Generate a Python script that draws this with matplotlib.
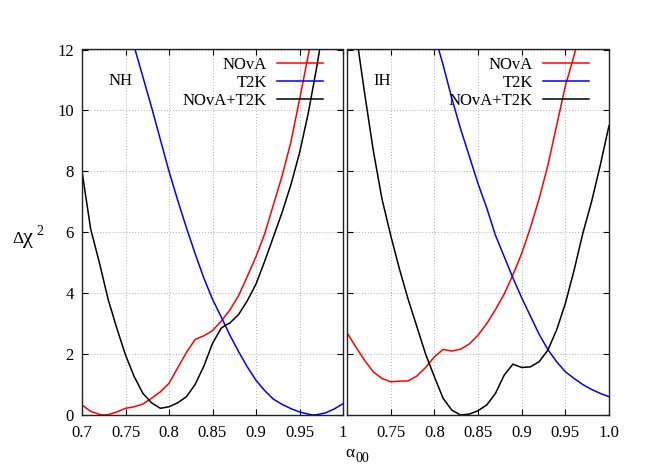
import numpy as np
import matplotlib
matplotlib.use("Agg")
import matplotlib.pyplot as plt

plt.rcParams['font.family'] = ['Liberation Serif', 'DejaVu Serif']
plt.rcParams['font.size'] = 12

# NH panel, alpha_00 values and delta chi^2
nh_nova_x = [0.70, 0.71, 0.72, 0.725, 0.73, 0.74, 0.75, 0.76, 0.77, 0.78, 0.79, 0.80, 0.81, 0.82, 0.83,
             0.84, 0.85, 0.86, 0.87, 0.88, 0.89, 0.90, 0.91, 0.92, 0.93, 0.94, 0.95, 0.96, 0.97]
nh_nova_y = [0.33, 0.12, 0.02, 0.0, 0.01, 0.1, 0.22, 0.27, 0.36, 0.55, 0.76, 1.04, 1.55, 2.05, 2.48,
             2.6, 2.77, 3.08, 3.45, 3.92, 4.55, 5.2, 5.95, 6.9, 7.85, 8.95, 10.35, 11.8, 13.3]

nh_t2k_x = [0.76, 0.77, 0.78, 0.79, 0.80, 0.81, 0.82, 0.83, 0.84, 0.85, 0.86, 0.87, 0.88, 0.89, 0.90,
            0.91, 0.92, 0.93, 0.94, 0.95, 0.96, 0.965, 0.97, 0.98, 0.99, 1.00]
nh_t2k_y = [12.1, 11.1, 10.1, 9.05, 8.0, 7.05, 6.15, 5.3, 4.5, 3.8, 3.22, 2.62, 2.08, 1.58, 1.14,
            0.8, 0.52, 0.35, 0.21, 0.1, 0.03, 0.0, 0.01, 0.07, 0.2, 0.37]

nh_comb_x = [0.70, 0.71, 0.72, 0.73, 0.74, 0.75, 0.76, 0.77, 0.78, 0.79, 0.80, 0.81, 0.82, 0.83, 0.84,
             0.85, 0.86, 0.865, 0.87, 0.88, 0.89, 0.90, 0.91, 0.92, 0.93, 0.94, 0.95, 0.96, 0.97, 0.98]
nh_comb_y = [8.0, 6.1, 5.0, 3.8, 2.85, 1.97, 1.26, 0.71, 0.4, 0.22, 0.27, 0.4, 0.6, 1.0, 1.6,
             2.35, 2.85, 2.95, 3.02, 3.3, 3.75, 4.3, 5.05, 5.85, 6.65, 7.55, 8.6, 9.9, 11.45, 13.2]

# IH panel
ih_nova_x = [0.70, 0.71, 0.72, 0.73, 0.74, 0.75, 0.76, 0.77, 0.78, 0.79, 0.80, 0.81, 0.82, 0.83, 0.84,
             0.85, 0.86, 0.87, 0.88, 0.89, 0.90, 0.91, 0.92, 0.93, 0.94, 0.95, 0.96, 0.97]
ih_nova_y = [2.7, 2.24, 1.8, 1.42, 1.2, 1.09, 1.11, 1.12, 1.28, 1.56, 1.91, 2.15, 2.1, 2.16, 2.33,
             2.62, 3.0, 3.46, 3.97, 4.6, 5.3, 6.15, 7.1, 8.2, 9.5, 10.8, 11.8, 13.0]

ih_t2k_x = [0.80, 0.81, 0.82, 0.83, 0.84, 0.85, 0.86, 0.87, 0.88, 0.89, 0.90, 0.91, 0.92, 0.93, 0.94,
            0.95, 0.96, 0.97, 0.98, 0.99, 1.00]
ih_t2k_y = [12.5, 11.5, 10.4, 9.4, 8.5, 7.6, 6.8, 5.9, 5.2, 4.5, 3.85, 3.25, 2.65, 2.15, 1.75,
            1.42, 1.2, 1.0, 0.84, 0.71, 0.6]

ih_comb_x = [0.71, 0.72, 0.73, 0.74, 0.75, 0.76, 0.77, 0.78, 0.79, 0.80, 0.81, 0.82, 0.83, 0.84, 0.85,
             0.86, 0.87, 0.88, 0.89, 0.90, 0.91, 0.92, 0.93, 0.94, 0.95, 0.96, 0.97, 0.98, 0.99, 1.00]
ih_comb_y = [12.6, 10.6, 8.7, 7.1, 5.9, 4.8, 3.8, 2.9, 2.0, 1.26, 0.55, 0.16, 0.0, 0.03, 0.14,
             0.33, 0.71, 1.31, 1.67, 1.56, 1.58, 1.75, 2.13, 2.79, 3.66, 4.75, 5.96, 7.0, 8.2, 9.5]

x_ticks = [0.7, 0.75, 0.8, 0.85, 0.9, 0.95, 1.0]
nh_xlabels = ['0.7', '0.75', '0.8', '0.85', '0.9', '0.95', '1']
ih_xlabels = ['', '0.75', '0.8', '0.85', '0.9', '0.95', '1.0']
y_ticks = [0, 2, 4, 6, 8, 10, 12]

W, H = 664, 465
fig = plt.figure(figsize=(W / 100, H / 100), dpi=100)

def panel(left, right, label, nova, t2k, comb, xlabels, ylabels):
    ax = fig.add_axes([left / W, 1 - 415 / H, (right - left) / W, (415 - 49.5) / H])
    ax.plot(*nova, color='#ff0000', lw=1.1, label='NOvA')
    ax.plot(*t2k, color='#0000ff', lw=1.1, label='T2K')
    ax.plot(*comb, color='black', lw=1.1, label='NOvA+T2K')
    ax.set_xlim(0.7, 1.0)
    ax.set_ylim(0, 12)
    ax.set_xticks(x_ticks)
    ax.set_xticklabels(xlabels)
    ax.set_yticks(y_ticks)
    if not ylabels:
        ax.set_yticklabels([])
    ax.grid(True, color='#b0b0b0', linestyle=(0, (1, 2)), lw=0.7)
    ax.tick_params(direction='in', top=True, right=True, length=4, width=0.8, labelsize=12)
    ax.tick_params(axis='x', pad=7)
    ax.tick_params(axis='y', pad=6)
    for s in ax.spines.values():
        s.set_linewidth(1.0)
        s.set_color('#222222')
    ax.text(0.1, 0.914, label, transform=ax.transAxes, ha='left', va='center', fontsize=12)
    ax.legend(loc='upper right', bbox_to_anchor=(0.923, 0.979), frameon=False,
              markerfirst=False, handlelength=2.75, handletextpad=0.6,
              borderaxespad=0, borderpad=0, labelspacing=0.1, fontsize=12)
    return ax

panel(82, 343, 'NH', (nh_nova_x, nh_nova_y), (nh_t2k_x, nh_t2k_y), (nh_comb_x, nh_comb_y),
      nh_xlabels, True)
panel(347, 609, 'IH', (ih_nova_x, ih_nova_y), (ih_t2k_x, ih_t2k_y), (ih_comb_x, ih_comb_y),
      ih_xlabels, False)

# axis titles written as plain text with a hand-placed super/subscript
fig.text(12 / W, 1 - 243 / H, '\u0394', ha='left', va='baseline', fontsize=12.5)
fig.text(23 / W, 1 - 243 / H, '\u03c7', ha='left', va='baseline', fontsize=16)
fig.text(36 / W, 1 - 235 / H, '2', ha='left', va='baseline', fontsize=10)
fig.text(345 / W, 1 - 457 / H, '\u03b1', ha='left', va='baseline', fontsize=12.5)
fig.text(355 / W, 1 - 462 / H, '00', ha='left', va='baseline', fontsize=10)

fig.savefig('out.png', dpi=100)
